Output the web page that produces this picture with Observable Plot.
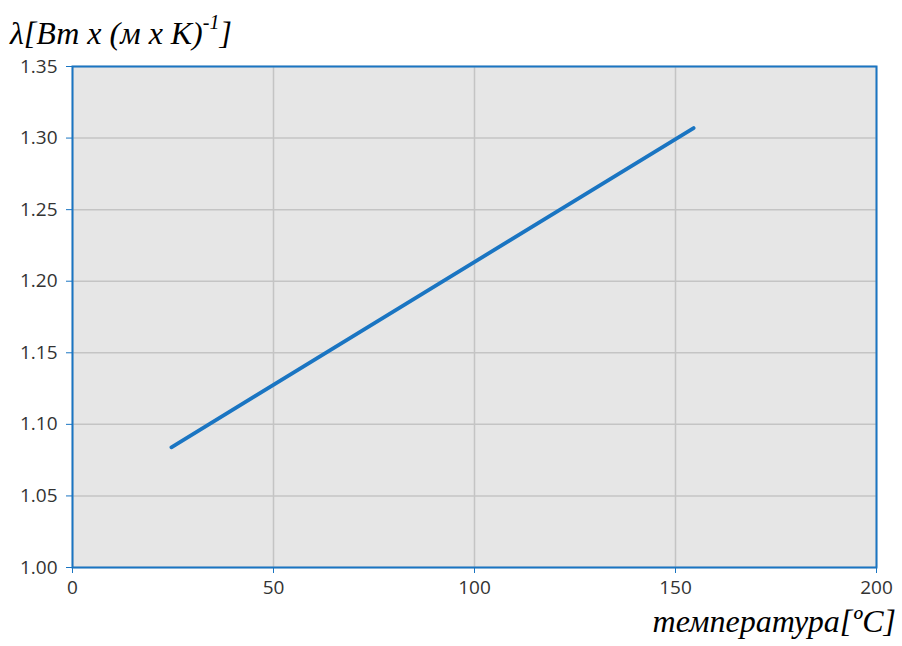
<!DOCTYPE html>
<html>
<head>
<meta charset="utf-8">
<script src="https://cdn.jsdelivr.net/npm/d3@7"></script>
<script src="https://cdn.jsdelivr.net/npm/@observablehq/plot@0.6"></script>
<style>
  html, body { margin: 0; padding: 0; background: #fff; }
  #wrap { position: relative; width: 902px; height: 646px; }
  #title { position: absolute; left: 10px; top: 15px; font-family: "Liberation Serif", "DejaVu Serif", serif; font-style: italic; font-size: 32px; color: #000; white-space: nowrap; line-height: 1; }
  #title sup { font-size: 20px; position: relative; top: -3px; }
  #xlabel { position: absolute; right: 6px; top: 605px; font-family: "Liberation Serif", "DejaVu Serif", serif; font-style: italic; font-size: 32px; color: #000; white-space: nowrap; line-height: 1; }
  svg { position: absolute; left: 0; top: 0; }
</style>
</head>
<body>
<div id="wrap">
  <div id="chart"></div>
  <div id="title">λ[Вт x (м x К)<sup>-1</sup>]</div>
  <div id="xlabel">температура[ºC]</div>
</div>
<script>
const temperature = [24.6, 154.5];
const conductivity = [1.084, 1.307];
const xTicks = [0, 50, 100, 150, 200];
const yTicks = [1.00, 1.05, 1.10, 1.15, 1.20, 1.25, 1.30, 1.35];

const data = temperature.map((t, i) => ({t, v: conductivity[i]}));
const blue = "#1a75c2";

const chart = Plot.plot({
  width: 902,
  height: 646,
  marginLeft: 72,
  marginRight: 26,
  marginTop: 66,
  marginBottom: 79,
  style: {fontFamily: "'Open Sans', sans-serif", fontSize: "19px", background: "transparent"},
  x: {domain: [0, 200]},
  y: {domain: [1.0, 1.35]},
  marks: [
    Plot.frame({fill: "#e6e6e6", stroke: "none"}),
    Plot.gridX(xTicks, {stroke: "#c4c4c4", strokeOpacity: 1, strokeWidth: 1.5}),
    Plot.gridY(yTicks, {stroke: "#c4c4c4", strokeOpacity: 1, strokeWidth: 1.5}),
    Plot.frame({stroke: blue, strokeWidth: 2}),
    Plot.axisX(xTicks, {stroke: blue, fill: "#333", fontSize: 19, tickSize: 6, tickPadding: 7, tickFormat: d => d, label: null}),
    Plot.axisY(yTicks, {stroke: blue, fill: "#333", fontSize: 19, tickSize: 6, tickPadding: 9, tickFormat: d => d.toFixed(2), label: null}),
    Plot.line(data, {x: "t", y: "v", stroke: blue, strokeWidth: 3.8, strokeLinecap: "round"})
  ]
});
document.getElementById("chart").appendChild(chart);
</script>
</body>
</html>
